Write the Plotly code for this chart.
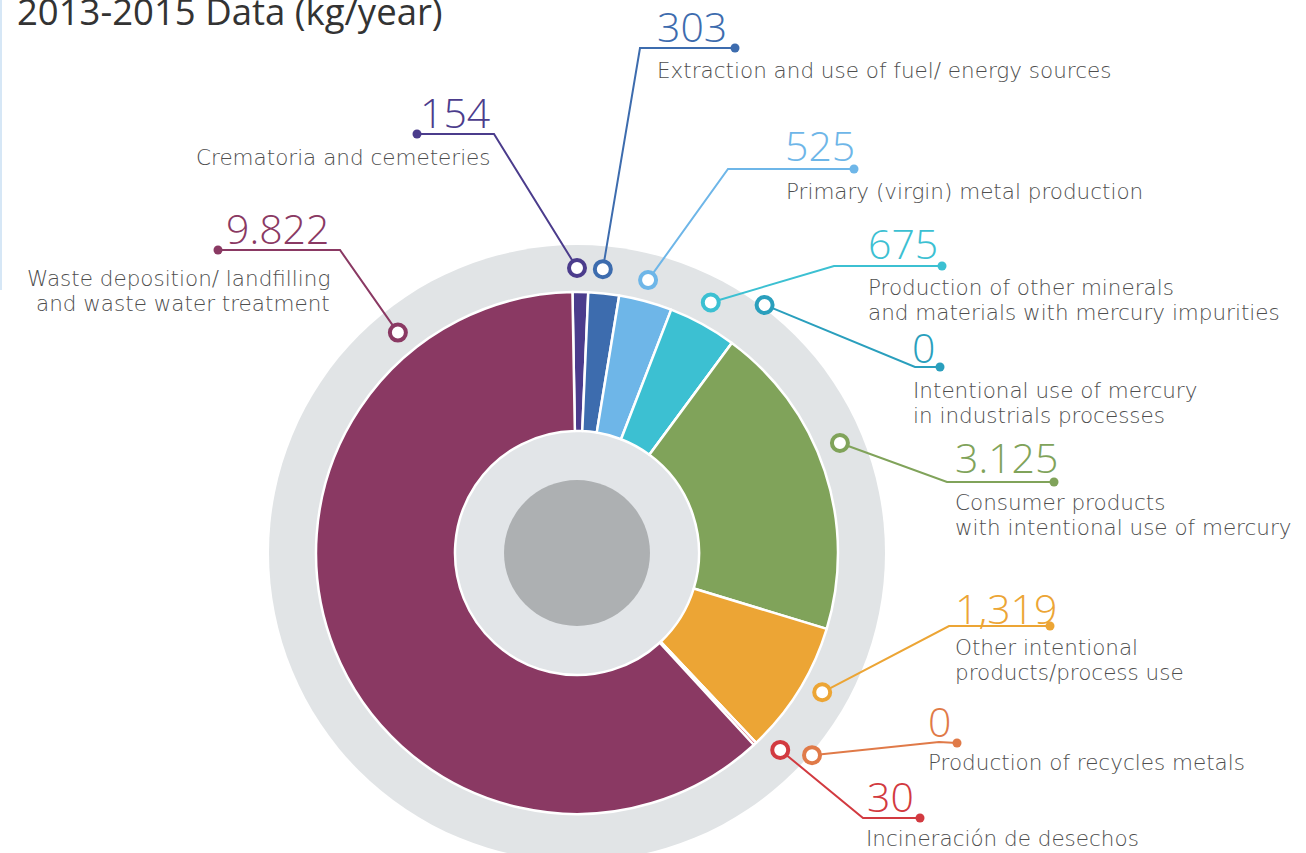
import math

import plotly.graph_objects as go


ANCHO = 1306
ALTO = 853

# Datos (kg/año), en el orden del anillo, en sentido horario desde arriba
categorias = [
    "Crematoria and cemeteries",
    "Extraction and use of fuel/ energy sources",
    "Primary (virgin) metal production",
    "Production of other minerals<br>and materials with mercury impurities",
    "Intentional use of mercury<br>in industrials processes",
    "Consumer products<br>with intentional use of mercury",
    "Other intentional<br>products/process use",
    "Production of recycles metals",
    "Incineración de desechos",
    "Waste deposition/ landfilling<br>and waste water treatment",
]
valores = [154, 303, 525, 675, 0, 3125, 1319, 0, 30, 9822]
etiquetas_valor = ["154", "303", "525", "675", "0", "3.125", "1,319", "0", "30", "9.822"]

COLORES = [
    "#4b3c8c", "#3d6cae", "#6eb6e8", "#3cc0d2", "#2a9fbd",
    "#80a35a", "#eca535", "#e07a48", "#d23a40", "#8a3963",
]

FUENTE_NUM = "Open Sans"
FUENTE_TEXTO = "DejaVu Sans"
INTERLINEA = 25.5

# Geometría del anillo (px de la figura)
CENTRO = (577, 553)
R_EXT = 261
R_HUECO = 122
R_CENTRO = 73
R_FONDO = 308

# Llamadas: ángulo/radio de la marca en el anillo gris, codo y punto final
ANGULO_MARCA = [0, 5.2, 14.6, 28.1, 37.1, 67.3, 119.6, 130.7, 134.1, 320.9]
RADIO_MARCA = [285, 285, 282, 284, 311, 285, 282, 310, 283, 284]
CODOS = [(494, 134), (640, 48), (728, 169), (834, 266), (915, 367),
         (947, 482), (949, 626), (939, 742), (863, 818), (340, 250)]
PUNTOS = [(417, 134), (735, 48), (854, 169), (942, 266), (940, 367),
          (1054, 482), (1050, 626), (957, 743), (920, 818), (218, 250)]
POS_NUMERO = [(492, 112, "right"), (655, 26, "left"), (783, 145, "left"),
              (866, 243, "left"), (910, 347, "left"), (953, 457, "left"),
              (953, 608, "left"), (926, 721, "left"), (865, 796, "left"),
              (331, 228, "right")]
POS_TEXTO = [(493, 157, "right"), (655, 70, "left"), (784, 191, "left"),
             (866, 300, "left"), (911, 403, "left"), (953, 515, "left"),
             (953, 660, "left"), (926, 762, "left"), (864, 838, "left"),
             (332, 291, "right")]


def circulo(radio: float, color: str) -> dict:
    u"""Forma circular centrada en el centro del anillo."""
    cx, cy = CENTRO
    return dict(type="circle", xref="x", yref="y", layer="below",
                x0=cx - radio, x1=cx + radio, y0=cy - radio, y1=cy + radio,
                fillcolor=color, line=dict(width=0))


def posicion_marca(angulo: float, radio: float) -> tuple:
    u"""Convierte ángulo (horario desde arriba) y radio a px."""
    a = math.radians(angulo)
    return CENTRO[0] + radio * math.sin(a), CENTRO[1] - radio * math.cos(a)


fig = go.Figure()

# Anillo de datos
fig.add_trace(go.Pie(
    labels=[c.replace("<br>", " ") for c in categorias],
    values=valores,
    sort=False,
    direction="clockwise",
    rotation=-1,
    hole=R_HUECO / R_EXT,
    marker=dict(colors=COLORES, line=dict(color="#ffffff", width=2.5)),
    textinfo="none",
    hoverinfo="label+value",
    showlegend=False,
    domain=dict(
        x=[(CENTRO[0] - R_EXT) / ANCHO, (CENTRO[0] + R_EXT) / ANCHO],
        y=[(ALTO - CENTRO[1] - R_EXT) / ALTO, (ALTO - CENTRO[1] + R_EXT) / ALTO]),
))

anotaciones = []
for i in range(len(valores)):
    mx, my = posicion_marca(ANGULO_MARCA[i], RADIO_MARCA[i])
    cx, cy = CODOS[i]
    px, py = PUNTOS[i]
    fig.add_trace(go.Scatter(
        x=[mx, cx, px], y=[my, cy, py], mode="lines",
        line=dict(color=COLORES[i], width=2),
        hoverinfo="skip", showlegend=False))
    fig.add_trace(go.Scatter(
        x=[px], y=[py], mode="markers",
        marker=dict(color=COLORES[i], size=9),
        hoverinfo="skip", showlegend=False))
    fig.add_trace(go.Scatter(
        x=[mx], y=[my], mode="markers",
        marker=dict(color="#ffffff", size=16,
                    line=dict(color=COLORES[i], width=4)),
        hoverinfo="skip", showlegend=False))
    nx, ny, nlado = POS_NUMERO[i]
    anotaciones.append(dict(
        x=nx, y=ny, xref="x", yref="y", xanchor=nlado, yanchor="middle",
        text=etiquetas_valor[i], showarrow=False,
        font=dict(family=FUENTE_NUM, size=41, weight=300, color=COLORES[i])))
    # cada renglón por separado para controlar el interlineado
    tx, ty, tlado = POS_TEXTO[i]
    renglones = categorias[i].split("<br>")
    y0 = ty - INTERLINEA * (len(renglones) - 1) / 2
    for j, renglon in enumerate(renglones):
        anotaciones.append(dict(
            x=tx, y=y0 + j * INTERLINEA, xref="x", yref="y",
            xanchor=tlado, yanchor="middle", text=renglon, showarrow=False,
            font=dict(family=FUENTE_TEXTO, size=21.5, weight=200,
                      color="#4e4e4e")))

anotaciones.append(dict(
    x=15, y=11, xref="x", yref="y", xanchor="left", yanchor="middle",
    text="2013-2015 Data (kg/year)", showarrow=False,
    font=dict(family=FUENTE_NUM, size=36.5, color="#333333")))

fig.update_layout(
    width=ANCHO,
    height=ALTO,
    margin=dict(l=0, r=0, t=0, b=0, pad=0),
    paper_bgcolor="#ffffff",
    plot_bgcolor="#ffffff",
    xaxis=dict(range=[0, ANCHO], visible=False, fixedrange=True),
    yaxis=dict(range=[ALTO, 0], visible=False, fixedrange=True),
    shapes=[
        circulo(R_FONDO, "#e1e4e6"),
        circulo(R_HUECO, "#e2e5e8"),
        circulo(R_CENTRO, "#adb0b2"),
        dict(type="line", xref="x", yref="y", layer="below",
             x0=1, x1=1, y0=0, y1=290, line=dict(color="#d6e7f6", width=2)),
    ],
    annotations=anotaciones,
)

# sin margen del body para que la figura ocupe la ventana desde (0, 0)
fig.write_html("out.html", config={"displayModeBar": False},
               post_script="document.body.style.margin='0';")
